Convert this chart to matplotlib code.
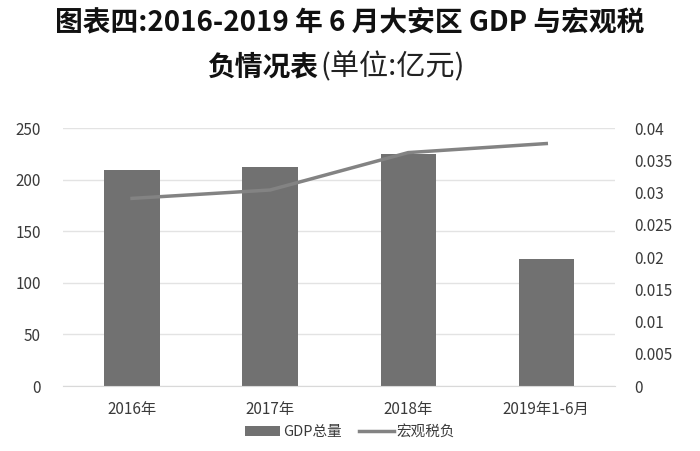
import numpy as np
import matplotlib.pyplot as plt
from matplotlib.patches import Patch
from matplotlib.lines import Line2D
plt.rcParams['font.family'] = ['Noto Sans CJK SC', 'DejaVu Sans']
plt.rcParams['axes.unicode_minus'] = False

categories = ['2016年', '2017年', '2018年', '2019年1-6月']
gdp_total = [209, 212, 225, 123]
macro_tax = [0.0291, 0.0304, 0.0362, 0.0376]

bar_color = '#717171'
line_color = '#838383'
text_color = '#3a3a3a'


def main():
    fig = plt.figure(figsize=(7, 4.51), dpi=100)
    ax = fig.add_axes([0.09, 0.144, 0.789, 0.572])

    xx = np.arange(len(categories))
    ax.bar(xx, gdp_total, width=0.4, color=bar_color, zorder=2)
    ax.set_xlim(-0.5, len(categories) - 0.5)
    ax.set_ylim(0, 250)
    ax.set_yticks(np.arange(0, 251, 50))
    ax.yaxis.grid(True, color='#e3e3e3', linewidth=1, zorder=0)
    ax.set_axisbelow(True)
    for s in ['top', 'right', 'left']:
        ax.spines[s].set_visible(False)
    ax.spines['bottom'].set_color('#d9d9d9')
    ax.set_xticks(xx)
    ax.set_xticklabels(categories)
    ax.tick_params(axis='both', length=0, labelsize=11, colors=text_color)
    ax.tick_params(axis='x', pad=11)
    ax.tick_params(axis='y', pad=16)

    ax2 = ax.twinx()
    ax2.plot(xx, macro_tax, color=line_color, linewidth=2.5, zorder=3)
    ax2.set_ylim(0, 0.04)
    ax2.set_yticks(np.arange(0, 0.0401, 0.005))
    ax2.set_yticklabels(['0', '0.005', '0.01', '0.015', '0.02', '0.025', '0.03', '0.035', '0.04'])
    for s in ['top', 'right', 'left', 'bottom']:
        ax2.spines[s].set_visible(False)
    ax2.tick_params(axis='y', length=0, labelsize=11, colors=text_color, pad=14)

    handles = [Patch(facecolor=bar_color, label='GDP总量'),
               Line2D([0], [0], color=line_color, linewidth=2.5, label='宏观税负')]
    fig.legend(handles=handles, loc='center', bbox_to_anchor=(0.5, 0.042), ncol=2,
               frameon=False, fontsize=10.5, handlelength=2.4, handleheight=0.7,
               handletextpad=0.2, columnspacing=1.2, labelcolor=text_color)

    fig.text(0.5, 0.951, '图表四:2016-2019 年 6 月大安区 GDP 与宏观税', ha='center', va='center',
             fontsize=20, fontweight='bold', color='#111111')
    fig.text(0.455, 0.85, '负情况表', ha='right', va='center',
             fontsize=20, fontweight='bold', color='#111111')
    fig.text(0.458, 0.85, '(单位:亿元)', ha='left', va='center',
             fontsize=21, fontweight='light', color='#222222')

    fig.savefig('out.png')


if __name__ == '__main__':
    main()
